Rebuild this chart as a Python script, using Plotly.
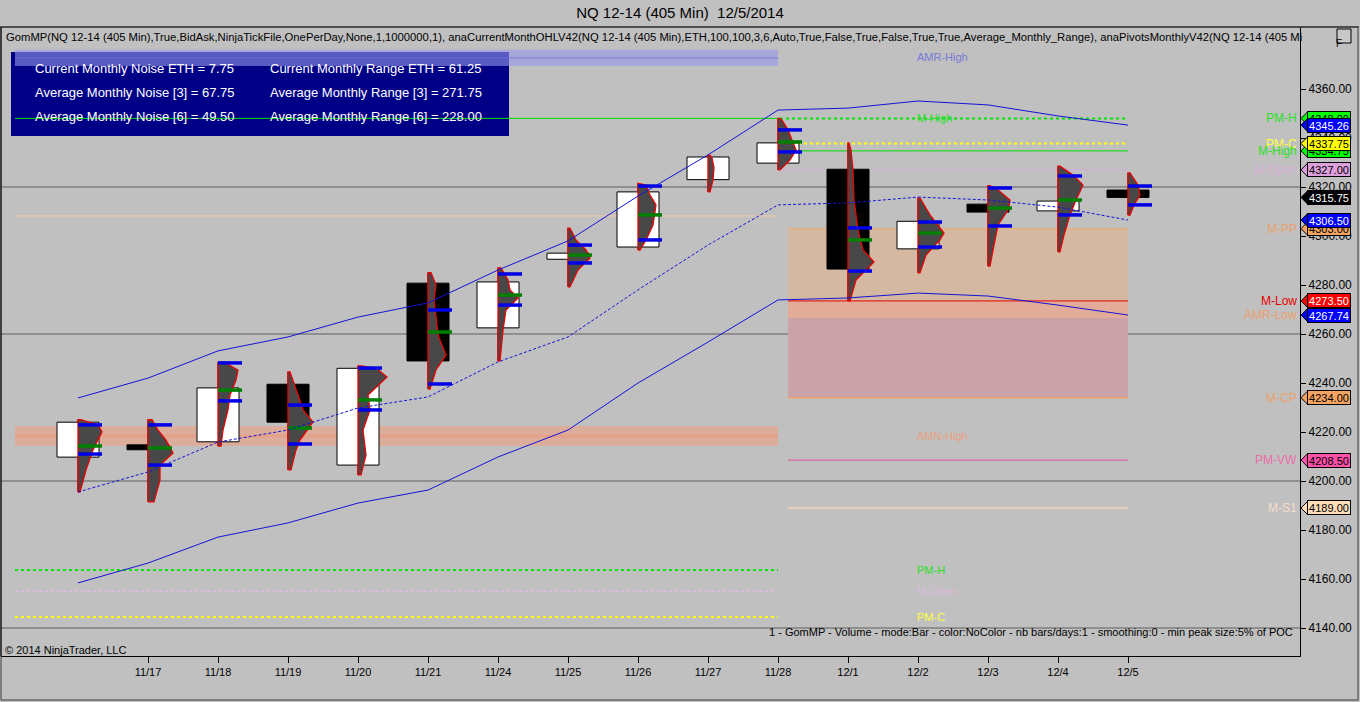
import plotly.graph_objects as go

# ---------------- data ----------------
dates = ["", "11/17", "11/18", "11/19", "11/20", "11/21", "11/24", "11/25", "11/26",
         "11/27", "11/28", "12/1", "12/2", "12/3", "12/4", "12/5"]
opens = [4209.75, 4214.75, 4216.0, 4239.5, 4206.5, 4280.75, 4262.5, 4290.5, 4295.5,
         4323.0, 4329.75, 4327.25, 4294.75, 4313.0, 4310.25, 4318.75]
highs = [4225.0, 4225.0, 4248.5, 4244.5, 4247.0, 4285.0, 4287.0, 4303.25, 4321.5,
         4333.0, 4348.0, 4338.0, 4315.5, 4320.5, 4328.5, 4325.75]
lows = [4195.5, 4191.5, 4214.25, 4204.5, 4202.5, 4237.5, 4249.0, 4279.25, 4294.25,
        4318.0, 4327.0, 4273.5, 4285.0, 4287.75, 4293.5, 4308.5]
closes = [4224.0, 4212.75, 4238.0, 4224.0, 4246.0, 4249.0, 4281.25, 4293.0, 4318.0,
          4332.25, 4338.0, 4286.5, 4306.0, 4309.75, 4314.25, 4315.75]

amr_upper = [4233.9, 4242.0, 4253.1, 4258.8, 4266.9, 4272.7, 4286.1, 4298.0, 4316.3,
             4333.1, 4351.4, 4352.2, 4355.1, 4353.5, 4349.0, 4345.26]
amr_mid = [4195.5, 4203.7, 4215.9, 4220.8, 4229.8, 4234.3, 4248.6, 4258.8, 4278.0,
           4296.3, 4312.7, 4313.5, 4315.9, 4314.7, 4311.8, 4306.5]
amr_lower = [4158.4, 4166.5, 4177.1, 4182.9, 4191.0, 4196.3, 4209.8, 4220.8, 4240.0,
             4256.7, 4273.9, 4274.7, 4276.7, 4275.5, 4271.8, 4267.74]

profile_prices = [
    [4195.5, 4204.5, 4212.7, 4216.8, 4220.0, 4222.9, 4225.0],
    [4191.5, 4200.4, 4206.5, 4211.4, 4216.7, 4220.8, 4225.0],
    [4214.25, 4220.8, 4229.0, 4235.1, 4241.2, 4245.3, 4248.5],
    [4204.5, 4212.7, 4216.7, 4224.1, 4229.0, 4235.1, 4244.5],
    [4202.5, 4210.6, 4220.8, 4229.0, 4235.1, 4242.4, 4246.1, 4247.0],
    [4237.5, 4245.3, 4251.4, 4259.6, 4265.7, 4273.9, 4280.0, 4285.0],
    [4249.0, 4261.6, 4269.8, 4274.7, 4278.0, 4282.0, 4287.0],
    [4279.25, 4286.1, 4291.0, 4294.3, 4298.4, 4303.25],
    [4294.25, 4298.4, 4304.5, 4312.7, 4316.7, 4320.8, 4321.5],
    [4318.0, 4322.9, 4327.8, 4331.8, 4333.0],
    [4327.0, 4331.0, 4335.1, 4339.2, 4343.3, 4347.3, 4348.0],
    [4273.5, 4282.0, 4289.4, 4294.3, 4302.4, 4314.7, 4326.9, 4335.1, 4338.0],
    [4285.0, 4292.2, 4298.4, 4301.2, 4304.5, 4308.6, 4312.7, 4315.5],
    [4287.75, 4296.3, 4304.5, 4310.6, 4314.7, 4318.8, 4320.5],
    [4293.5, 4300.4, 4308.6, 4314.7, 4320.8, 4324.9, 4328.5],
    [4308.5, 4312.7, 4316.7, 4320.8, 4325.75],
]
profile_vols = [
    [2, 8, 15, 20, 24, 20, 3],
    [6, 12, 12, 25, 18, 10, 4],
    [3, 5, 10, 12, 18, 20, 6],
    [3, 8, 12, 25, 15, 10, 2],
    [3, 8, 5, 12, 10, 29, 18, 3],
    [2, 8, 18, 10, 8, 6, 8, 3],
    [2, 5, 8, 20, 12, 10, 3],
    [2, 10, 22, 18, 8, 2],
    [2, 8, 15, 18, 12, 8, 2],
    [2, 5, 6, 4, 2],
    [2, 12, 18, 14, 10, 4, 2],
    [2, 8, 26, 15, 10, 6, 5, 3, 1],
    [2, 8, 22, 26, 20, 12, 6, 2],
    [2, 6, 10, 20, 22, 10, 2],
    [2, 6, 12, 18, 25, 15, 2],
    [2, 6, 12, 10, 2],
]
va_high = [4222.9, 4222.9, 4248.2, 4231.0, 4246.1, 4269.8, 4284.5, 4296.3, 4320.4,
           None, 4343.3, 4303.3, 4305.7, 4319.6, 4324.5, 4320.4]
va_low = [4211.0, 4206.5, 4232.7, 4215.1, 4229.0, 4239.6, 4271.8, 4289.0, 4298.4,
          None, 4334.3, 4285.7, 4295.5, 4304.1, 4308.6, 4312.7]
poc = [4214.3, 4213.5, 4237.1, 4221.6, 4233.1, 4260.8, 4275.9, 4292.2, 4308.6,
       None, 4338.4, 4298.4, 4301.2, 4311.4, 4314.7, None]

# monthly levels
pm_high, pm_close, m_high, m_open = 4348.0, 4337.75, 4334.75, 4327.0
m_pp, m_low, amr_low_zone, m_cp = 4303.0, 4273.5, 4266.5, 4234.0
pm_vwap, m_s1 = 4208.5, 4189.0
amr_high_band = [4369.4, 4376.0]
amn_band = [4214.3, 4222.4]
prior_line = 4308.2
left_pm_h, left_m_open, left_pm_c = 4163.7, 4155.0, 4144.5

noise_lines = ["Current Monthly Noise ETH = 7.75", "Average Monthly Noise [3] = 67.75",
               "Average Monthly Noise [6] = 49.50"]
range_lines = ["Current Monthly Range ETH = 61.25", "Average Monthly Range [3] = 271.75",
               "Average Monthly Range [6] = 228.00"]

y_ticks = list(range(4140, 4361, 20))

# ---------------- geometry helpers ----------------
W, H = 1360, 702
ML, MR, MT, MB = 1, 60, 27, 46
PW, PH = W - ML - MR, H - MT - MB
BAR_PX = 70.0
X0 = -77 / BAR_PX
X1 = X0 + PW / BAR_PX
Y0 = 4360 - (H - MB - 89) / 2.45
Y1 = 4360 + (89 - MT) / 2.45


def px(x):
    return (x - ML) / PW


def py(y):
    return (H - MB - y) / PH


def xi(x):
    return X0 + (x - ML) / BAR_PX


FONT = "Liberation Sans, Arial, sans-serif"
n = len(opens)
idx = list(range(n))

fig = go.Figure()

# wicks
wx, wy = [], []
for i in idx:
    top, bot = max(opens[i], closes[i]), min(opens[i], closes[i])
    wx += [i, i, None, i, i, None]
    wy += [highs[i], top, None, bot, lows[i], None]
fig.add_trace(go.Scatter(x=wx, y=wy, mode="lines", line=dict(color="black", width=1),
                         hoverinfo="skip", showlegend=False))

# bodies
fig.add_trace(go.Bar(
    x=idx, base=[min(o, c) for o, c in zip(opens, closes)],
    y=[max(abs(c - o), 0.5) for o, c in zip(opens, closes)],
    width=0.6,
    marker=dict(color=["white" if c >= o else "black" for o, c in zip(opens, closes)],
                line=dict(color="black", width=1)),
    hoverinfo="skip", showlegend=False))

# volume profiles
VSCALE = 1.0 / BAR_PX
for i in idx:
    pr, vo = profile_prices[i], profile_vols[i]
    xs = [i] + [i + v * VSCALE for v in vo] + [i, i]
    ys = [pr[0]] + pr + [pr[-1], pr[0]]
    fig.add_trace(go.Scatter(x=xs, y=ys, mode="lines", fill="toself",
                             fillcolor="rgb(72,72,72)", line=dict(color="rgb(235,0,0)", width=1.3),
                             hoverinfo="skip", showlegend=False))

# value area / poc marks
SEG = 24 * VSCALE
bx, by, gx, gy = [], [], [], []
for i in idx:
    for lv in (va_high[i], va_low[i]):
        if lv is not None:
            bx += [i, i + SEG, None]
            by += [lv, lv, None]
    if poc[i] is not None:
        gx += [i, i + SEG, None]
        gy += [poc[i], poc[i], None]
fig.add_trace(go.Scatter(x=bx, y=by, mode="lines", line=dict(color="rgb(0,0,230)", width=3.5),
                         hoverinfo="skip", showlegend=False))
fig.add_trace(go.Scatter(x=gx, y=gy, mode="lines", line=dict(color="rgb(0,128,0)", width=3.5),
                         hoverinfo="skip", showlegend=False))

# AMR channel
fig.add_trace(go.Scatter(x=idx, y=amr_upper, mode="lines", line=dict(color="rgb(20,20,215)", width=1),
                         hoverinfo="skip", showlegend=False))
fig.add_trace(go.Scatter(x=idx, y=amr_mid, mode="lines",
                         line=dict(color="rgb(20,20,215)", width=1, dash="3px,2px"),
                         hoverinfo="skip", showlegend=False))
fig.add_trace(go.Scatter(x=idx, y=amr_lower, mode="lines", line=dict(color="rgb(20,20,215)", width=1),
                         hoverinfo="skip", showlegend=False))

# ---------------- shapes ----------------
shapes = []
LX0, LX1 = xi(15), xi(778)
RX0, RX1 = xi(788), 15.0


def hline(y, x0, x1, color, width=1, dash="solid", layer="below"):
    shapes.append(dict(type="line", xref="x", yref="y", x0=x0, x1=x1, y0=y, y1=y,
                       line=dict(color=color, width=width, dash=dash), layer=layer))


def band(y0, y1, x0, x1, color, layer="below"):
    shapes.append(dict(type="rect", xref="x", yref="y", x0=x0, x1=x1, y0=y0, y1=y1,
                       fillcolor=color, line=dict(width=0), layer=layer))


# grid lines every 60
for g in (4140, 4200, 4260, 4320):
    shapes.append(dict(type="line", xref="paper", yref="y", x0=0, x1=1, y0=g, y1=g,
                       line=dict(color="rgb(95,95,95)", width=1), layer="below"))

# info box
shapes.append(dict(type="rect", xref="paper", yref="paper", x0=px(11), x1=px(509),
                   y0=py(136), y1=py(52), fillcolor="rgb(0,0,135)", line=dict(width=0), layer="below"))

# left (prior month) levels
band(amr_high_band[0], amr_high_band[1], LX0, LX1, "rgba(150,150,235,0.6)")
hline((amr_high_band[0] + amr_high_band[1]) / 2, LX0, LX1, "rgba(110,110,220,0.8)", 1)
hline(pm_high, LX0, LX1, "rgb(0,220,0)", 1)
hline(prior_line, LX0, LX1, "rgb(240,200,170)", 1)
band(amn_band[0], amn_band[1], LX0, LX1, "rgba(238,160,130,0.6)")
hline((amn_band[0] + amn_band[1]) / 2, LX0, LX1, "rgba(235,150,120,0.5)", 3)
hline(left_pm_h, LX0, LX1, "rgb(0,230,0)", 2, "dot")
hline(left_m_open, LX0, LX1, "rgb(225,185,225)", 1.5, "dot")
hline(left_pm_c, LX0, LX1, "rgb(255,255,0)", 2, "dot")

# right (current month) levels
band(m_low, m_pp, RX0, RX1, "rgb(212,184,162)")
band(amr_low_zone, m_low, RX0, RX1, "rgb(226,172,152)")
band(m_cp, amr_low_zone, RX0, RX1, "rgb(202,162,168)")
hline(m_pp, RX0, RX1, "rgb(240,170,110)", 1)
hline(m_cp, RX0, RX1, "rgb(240,160,100)", 1.5)
hline(m_low, RX0, RX1, "rgb(230,0,0)", 1)
hline(pm_high, xi(780), RX1, "rgb(0,230,0)", 2, "dot")
hline(pm_close, xi(780), RX1, "rgb(255,255,0)", 2, "dot")
hline(m_high, xi(780), RX1, "rgb(0,220,0)", 1)
hline(m_open, xi(780), RX1, "rgb(215,170,215)", 1)
hline(pm_vwap, RX0, RX1, "rgb(235,80,160)", 1)
hline(m_s1, RX0, RX1, "rgb(245,215,190)", 1.5)

# frame lines
shapes.append(dict(type="line", xref="paper", yref="paper", x0=px(0), x1=px(1359), y0=1, y1=1,
                   line=dict(color="black", width=1)))
shapes.append(dict(type="rect", xref="paper", yref="paper", x0=px(1), x1=px(1358), y0=py(700), y1=1,
                   line=dict(color="rgb(60,60,60)", width=1), fillcolor="rgba(0,0,0,0)"))
shapes.append(dict(type="line", xref="paper", yref="paper", x0=0, x1=0, y0=0, y1=1,
                   line=dict(color="black", width=1)))
# F box
shapes.append(dict(type="rect", xref="paper", yref="paper", x0=px(1337), x1=px(1351), y0=py(43), y1=py(29),
                   line=dict(color="black", width=1), fillcolor="rgb(200,200,200)"))

# ---------------- annotations ----------------
ann = []
ann.append(dict(xref="paper", yref="paper", x=px(4), y=py(37), xanchor="left", yanchor="middle",
                showarrow=False, font=dict(family=FONT, size=11.25, color="black"),
                text="GomMP(NQ 12-14 (405 Min),True,BidAsk,NinjaTickFile,OnePerDay,None,1,1000000,1), "
                     "anaCurrentMonthOHLV42(NQ 12-14 (405 Min),ETH,100,100,3,6,Auto,True,False,True,False,"
                     "True,True,Average_Monthly_Range), anaPivotsMonthlyV42(NQ 12-14 (405 Mi"))
ann.append(dict(xref="paper", yref="paper", x=px(1344), y=py(36), showarrow=False, text="F",
                font=dict(family=FONT, size=10, color="black")))
for k, (a, b) in enumerate(zip(noise_lines, range_lines)):
    yy = py([68, 92, 117][k])
    ann.append(dict(xref="paper", yref="paper", x=px(33), y=yy, xanchor="left", yanchor="middle",
                    showarrow=False, text=a, font=dict(family=FONT, size=13, color="white")))
    ann.append(dict(xref="paper", yref="paper", x=px(268), y=yy, xanchor="left", yanchor="middle",
                    showarrow=False, text=b, font=dict(family=FONT, size=13, color="white")))

mid_labels = [("AMR-High", 4373.1, "rgb(120,120,215)"), ("M-High", pm_high, "rgb(40,225,40)"),
              ("AMN-High", 4218.4, "rgb(235,160,130)"), ("PM-H", left_pm_h, "rgb(40,225,40)"),
              ("M-Open", left_m_open, "rgb(220,185,220)"), ("PM-C", left_pm_c, "rgb(255,255,60)")]
for t, v, c in mid_labels:
    ann.append(dict(xref="x", yref="y", x=xi(915), y=v, xanchor="left", yanchor="middle",
                    showarrow=False, text=t, font=dict(family=FONT, size=11, color=c)))

right_labels = [("PM-H", pm_high, "rgb(40,225,40)"), ("PM-C", pm_close, "rgb(255,255,60)"),
                ("M-High", m_high, "rgb(40,225,40)"), ("M-Open", m_open, "rgb(215,175,215)"),
                ("M-PP", m_pp, "rgb(235,160,110)"), ("M-Low", m_low, "rgb(230,0,0)"),
                ("AMR-Low", amr_lower[-1], "rgb(235,160,110)"), ("M-CP", m_cp, "rgb(235,160,110)"),
                ("PM-VW", pm_vwap, "rgb(235,110,170)"), ("M-S1", m_s1, "rgb(245,220,200)")]
for t, v, c in right_labels:
    ann.append(dict(xref="paper", yref="y", x=px(1299), y=v, xanchor="right", yanchor="middle",
                    showarrow=False, text=t, font=dict(family=FONT, size=12, color=c)))

flags = [(pm_high, "rgb(0,255,0)", "black"), (amr_upper[-1], "rgb(0,0,255)", "white"),
         (m_high, "rgb(0,255,0)", "black"), (pm_close, "rgb(255,255,0)", "black"),
         (m_open, "rgb(221,160,221)", "black"), (closes[-1], "black", "white"),
         (m_pp, "rgb(244,164,96)", "black"), (amr_mid[-1], "rgb(0,0,255)", "white"),
         (m_low, "rgb(255,0,0)", "white"), (amr_lower[-1], "rgb(0,0,255)", "white"),
         (m_cp, "rgb(244,164,96)", "black"), (pm_vwap, "rgb(255,80,170)", "black"),
         (m_s1, "rgb(255,222,185)", "black")]
half = 7 / 2.45
for v, bg, fg in flags:
    shapes.append(dict(type="path", xref="paper", yref="y",
                       path=f"M {px(1301)},{v} L {px(1308)},{v + half} L {px(1308)},{v - half} Z",
                       fillcolor=bg, line=dict(color="black", width=1)))
    ann.append(dict(xref="paper", yref="y", x=px(1307), y=v, xanchor="left", yanchor="middle",
                    showarrow=False, text=f"{v:.2f}", bgcolor=bg, bordercolor="black", borderwidth=1,
                    borderpad=0, width=42, height=13, align="center",
                    font=dict(family=FONT, size=11, color=fg)))

ann.append(dict(xref="paper", yref="paper", x=px(3), y=py(650), xanchor="left", yanchor="middle",
                showarrow=False, text="© 2014 NinjaTrader, LLC", font=dict(family=FONT, size=11, color="black")))
ann.append(dict(xref="paper", yref="paper", x=px(1295), y=py(632), xanchor="right", yanchor="middle",
                showarrow=False,
                text="1 - GomMP - Volume - mode:Bar - color:NoColor - nb bars/days:1 - smoothing:0 - min peak size:5% of POC",
                font=dict(family=FONT, size=11, color="black")))

fig.update_layout(
    width=W, height=H, autosize=False,
    margin=dict(l=ML, r=MR, t=MT, b=MB, pad=0),
    paper_bgcolor="rgb(192,192,192)", plot_bgcolor="rgb(192,192,192)",
    title=dict(text="NQ 12-14 (405 Min)  12/5/2014", x=0.5, xanchor="center",
               y=1 - 13 / H, yanchor="middle", font=dict(family=FONT, size=15, color="black")),
    barmode="overlay", showlegend=False, hovermode=False,
    shapes=shapes, annotations=ann,
    xaxis=dict(range=[X0, X1], tickvals=idx[1:], ticktext=dates[1:], ticks="outside", ticklen=6,
               tickcolor="black", showline=True, linecolor="black", linewidth=1, showgrid=False,
               zeroline=False, tickfont=dict(family=FONT, size=11, color="black"), fixedrange=True),
    yaxis=dict(range=[Y0, Y1], side="right", tickvals=y_ticks, ticktext=[f"{t:.2f}" for t in y_ticks],
               ticks="outside", ticklen=5, tickcolor="black", showline=True, linecolor="black",
               linewidth=1, showgrid=False, zeroline=False,
               tickfont=dict(family=FONT, size=12, color="black"), fixedrange=True),
)

fig.write_html("out.html", config={"displayModeBar": False},
               post_script="document.body.style.margin='0px';document.body.style.padding='0px';"
                           "document.body.style.overflow='hidden';"
                           "document.body.style.background='rgb(192,192,192)';")
